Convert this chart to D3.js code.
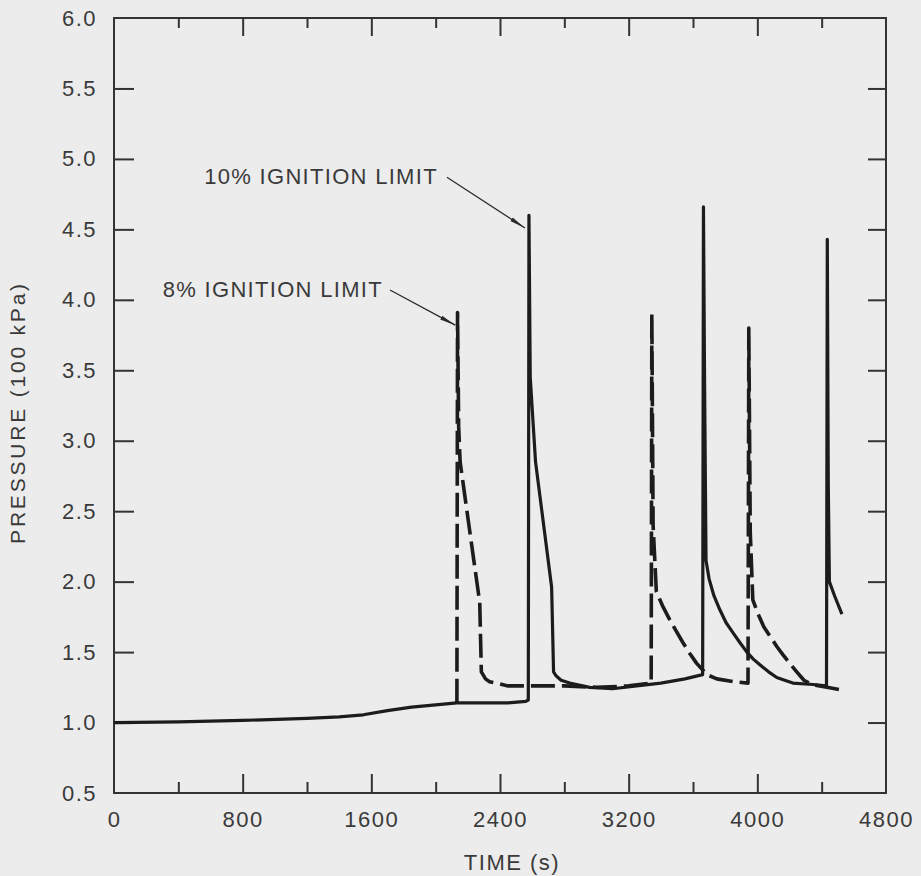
<!DOCTYPE html>
<html>
<head>
<meta charset="utf-8">
<script src="https://cdn.jsdelivr.net/npm/d3@7"></script>
<style>
  html, body { margin: 0; padding: 0; background: #ececec; }
  svg { display: block; }
  .tick text { font-family: "Liberation Sans", Arial, sans-serif; fill: #3a3a3a; }
</style>
</head>
<body>
<div id="chart"></div>
<script>
// pressure history, two ignition limits

const xMajorTicks = [0, 800, 1600, 2400, 3200, 4000, 4800]
const xMinorTicks = [400, 1200, 2000, 2800, 3600, 4400]
const yTicks = [0.5, 1.0, 1.5, 2.0, 2.5, 3.0, 3.5, 4.0, 4.5, 5.0, 5.5, 6.0]

// 10% ignition limit (solid) - includes the common early curve
const timeSolid = [0, 400, 800, 1200, 1400, 1550, 1700, 1850, 2000, 2132, 2300, 2450, 2560, 2576,
                   2580, 2588, 2621, 2721, 2733, 2750, 2780, 2833, 2957, 3100, 3250, 3400, 3550, 3660,
                   3665, 3672, 3681, 3700, 3730, 3767, 3805, 3847, 3890, 3935, 3975, 4016, 4070,
                   4121, 4170, 4221, 4346, 4430,
                   4435, 4441, 4448, 4480, 4526]
const pressSolid = [1.00, 1.005, 1.015, 1.03, 1.04, 1.055, 1.085, 1.11, 1.125, 1.14, 1.14, 1.14, 1.15, 1.16,
                    4.60, 3.45, 2.85, 1.96, 1.36, 1.33, 1.30, 1.28, 1.25, 1.24, 1.26, 1.28, 1.31, 1.34,
                    4.66, 3.40, 2.15, 2.02, 1.90, 1.80, 1.71, 1.64, 1.57, 1.50, 1.45, 1.41, 1.36,
                    1.32, 1.30, 1.28, 1.27, 1.26,
                    4.43, 2.70, 2.00, 1.90, 1.77]

// 8% ignition limit (dashed) - branches off the common curve
const timeDashed = [2132, 2136, 2143, 2152, 2274, 2284, 2310, 2335, 2450, 2600, 2800, 3000, 3200, 3340,
                    3344, 3352, 3372, 3410, 3455, 3495, 3536, 3580, 3623, 3655, 3686, 3748, 3850, 3942,
                    3947, 3956, 3972, 4005, 4040, 4080, 4121, 4160, 4201, 4245, 4290, 4340, 4433, 4526]
const pressDashed = [1.14, 3.91, 3.10, 2.85, 1.85, 1.36, 1.31, 1.29, 1.26, 1.26, 1.26, 1.25, 1.26, 1.28,
                     3.90, 2.40, 1.93, 1.83, 1.73, 1.65, 1.57, 1.49, 1.42, 1.38, 1.34, 1.31, 1.29, 1.28,
                     3.80, 2.35, 1.87, 1.77, 1.68, 1.61, 1.54, 1.48, 1.42, 1.36, 1.30, 1.27, 1.25, 1.23]

const labels = ['10% IGNITION LIMIT', '8% IGNITION LIMIT']
const labelAt = [[2014, 4.88], [1672, 4.08]]
const arrowFrom = [[2070, 4.87], [1716, 4.07]]
const arrowTo = [[2555, 4.51], [2122, 3.82]]

const margin = {top: 18, right: 35, bottom: 83, left: 114}
const width = 921 - margin.left - margin.right
const height = 876 - margin.top - margin.bottom
const font = '"Liberation Sans", Arial, sans-serif'

const x = d3.scaleLinear().domain([0, 4800]).range([0, width])
const y = d3.scaleLinear().domain([0.5, 6.0]).range([height, 0])

const svg = d3.select('#chart').append('svg')
    .attr('width', 921)
    .attr('height', 876)

svg.append('defs').append('marker')
    .attr('id', 'arrow')
    .attr('viewBox', '0 0 16 6')
    .attr('refX', 16).attr('refY', 3)
    .attr('markerWidth', 16).attr('markerHeight', 6)
    .attr('markerUnits', 'userSpaceOnUse')
    .attr('orient', 'auto')
  .append('path')
    .attr('d', 'M0,0.8 L16,3 L0,5.2 Z')
    .attr('fill', '#2a2a2a')

const main = svg.append('g')
    .attr('transform', 'translate(' + margin.left + ',' + margin.top + ')')

// ticks: all pointing into the plot
const styleAxis = g => {
    g.select('.domain').remove()
    g.selectAll('.tick line').attr('stroke', '#333').attr('stroke-width', 2)
    g.selectAll('.tick text').attr('font-size', 22).attr('letter-spacing', 1.5)
}

main.append('g')
    .attr('transform', 'translate(0,' + height + ')')
    .call(d3.axisBottom(x).tickValues(xMajorTicks).tickSize(0).tickPadding(18).tickFormat(d3.format('d')))
    .call(styleAxis)

main.append('g')
    .attr('transform', 'translate(0,' + height + ')')
    .call(d3.axisBottom(x).tickValues(xMajorTicks.slice(1, -1)).tickSize(-19).tickFormat(''))
    .call(styleAxis)
main.append('g')
    .attr('transform', 'translate(0,' + height + ')')
    .call(d3.axisBottom(x).tickValues(xMinorTicks).tickSize(-11).tickFormat(''))
    .call(styleAxis)
main.append('g')
    .call(d3.axisTop(x).tickValues(xMajorTicks.slice(1, -1)).tickSize(-18).tickFormat(''))
    .call(styleAxis)
main.append('g')
    .call(d3.axisTop(x).tickValues(xMinorTicks).tickSize(-10).tickFormat(''))
    .call(styleAxis)

main.append('g')
    .call(d3.axisLeft(y).tickValues(yTicks).tickSize(0).tickPadding(17).tickFormat(d3.format('.1f')))
    .call(styleAxis)
main.append('g')
    .call(d3.axisLeft(y).tickValues(yTicks.slice(1, -1)).tickSize(-20).tickFormat(''))
    .call(styleAxis)
main.append('g')
    .attr('transform', 'translate(' + width + ',0)')
    .call(d3.axisRight(y).tickValues(yTicks.slice(1, -1)).tickSize(-18).tickFormat(''))
    .call(styleAxis)

main.append('rect')
    .attr('width', width).attr('height', height)
    .attr('fill', 'none')
    .attr('stroke', '#333')
    .attr('stroke-width', 2)

// axis titles
main.append('text')
    .attr('transform', 'translate(' + (width / 2 + 12) + ',' + (height + 77) + ')')
    .attr('text-anchor', 'middle')
    .attr('font-family', font).attr('font-size', 22).attr('letter-spacing', 1.5)
    .attr('fill', '#3a3a3a')
    .text('TIME (s)')

main.append('text')
    .attr('transform', 'translate(' + (-89) + ',' + (height / 2 + 7) + ') rotate(-90)')
    .attr('text-anchor', 'middle')
    .attr('font-family', font).attr('font-size', 21).attr('letter-spacing', 2.8)
    .attr('fill', '#3a3a3a')
    .text('PRESSURE (100 kPa)')

// series
const line = d3.line()
    .x(d => x(d[0]))
    .y(d => y(d[1]))

main.append('path')
    .datum(d3.zip(timeSolid, pressSolid))
    .attr('d', line)
    .attr('fill', 'none')
    .attr('stroke', '#1c1c1c')
    .attr('stroke-width', 3.2)
    .attr('stroke-linejoin', 'round')

main.append('path')
    .datum(d3.zip(timeDashed, pressDashed))
    .attr('d', line)
    .attr('fill', 'none')
    .attr('stroke', '#1c1c1c')
    .attr('stroke-width', 3.6)
    .attr('stroke-dasharray', '24,7')
    .attr('stroke-linejoin', 'round')

// annotations
labels.forEach((txt, i) => {
    main.append('text')
        .attr('x', x(labelAt[i][0]))
        .attr('y', y(labelAt[i][1]) + 8)
        .attr('text-anchor', 'end')
        .attr('font-family', font).attr('font-size', 22).attr('letter-spacing', 1.3)
        .attr('fill', '#3a3a3a')
        .text(txt)
    main.append('line')
        .attr('x1', x(arrowFrom[i][0])).attr('y1', y(arrowFrom[i][1]))
        .attr('x2', x(arrowTo[i][0])).attr('y2', y(arrowTo[i][1]))
        .attr('stroke', '#2a2a2a')
        .attr('stroke-width', 1.3)
        .attr('marker-end', 'url(#arrow)')
})
</script>
</body>
</html>
